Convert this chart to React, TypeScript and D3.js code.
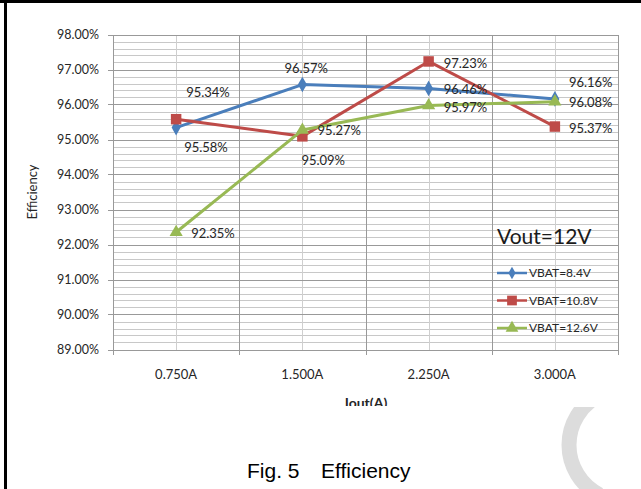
import React from 'react';
import * as d3 from 'd3';

// Iout categories and efficiency (%) for each battery voltage
const categories = ['0.750A', '1.500A', '2.250A', '3.000A'];
const seriesNames = ['VBAT=8.4V', 'VBAT=10.8V', 'VBAT=12.6V'];
const vbat84 = [95.34, 96.57, 96.46, 96.16];
const vbat108 = [95.58, 95.09, 97.23, 95.37];
const vbat126 = [92.35, 95.27, 95.97, 96.08];
const yTickValues = [89, 90, 91, 92, 93, 94, 95, 96, 97, 98];

const seriesValues = [vbat84, vbat108, vbat126];
const colors = ['#4a7ebb', '#be4b48', '#98b954'];
const symbols = [d3.symbolDiamond, d3.symbolSquare, d3.symbolTriangle];

// where Excel put each data label, relative to its point
const labelOffsets = [
  [[10, -35], [-18, -16], [15, 1], [14, -17]],
  [[8, 28], [-1, 24], [15, 2], [14, 2]],
  [[15, 1], [15, 0], [15, 2], [14, 1]],
];

const W = 641;
const H = 489;
const plot = { left: 113, right: 618, top: 34.5, bottom: 349.5 };
const font = 'Lato, "Open Sans", sans-serif';

const App = () => {
  const x = d3.scaleBand<string>()
    .domain(categories)
    .range([plot.left, plot.right])
    .padding(0);

  const y = d3.scaleLinear()
    .domain([89, 98])
    .range([plot.bottom, plot.top]);

  const cx = (c: string) => (x(c) || 0) + x.bandwidth() / 2;
  const px = (v: number) => Math.round(v) + 0.5;

  const minorY = y.ticks(45);
  const bounds = [...categories.map(c => x(c) || 0), plot.right];

  const line = d3.line<number>()
    .x((_, i) => cx(categories[i]))
    .y(d => y(d));

  const symbolSizes = [70, 110, 75];
  const legendSizes = [45, 95, 70];

  return (
    <svg
      width={W}
      height={H}
      style={{ position: 'absolute', left: 0, top: 0, background: '#fff' }}
    >
      <defs>
        <clipPath id="chart-clip">
          <rect x={0} y={0} width={W} height={406} />
        </clipPath>
        <clipPath id="below-clip">
          <rect x={0} y={407} width={W} height={H - 407} />
        </clipPath>
      </defs>

      {/* grey arc peeking in at the bottom right */}
      <g clipPath="url(#below-clip)">
        <path
          d={d3.arc()({ innerRadius: 48.5, outerRadius: 63.5, startAngle: Math.PI * 1.15, endAngle: Math.PI * 1.85 }) || ''}
          transform="translate(625,445)"
          fill="#dcdcdc"
        />
      </g>

      <g clipPath="url(#chart-clip)">
        {/* minor gridlines */}
        {minorY.map(t => (
          <line key={`my${t}`} x1={plot.left} x2={plot.right} y1={px(y(t))} y2={px(y(t))}
            stroke="#c8c8c8" strokeWidth={1} shapeRendering="crispEdges" />
        ))}
        {categories.map(c => (
          <line key={`mx${c}`} x1={px(cx(c))} x2={px(cx(c))} y1={plot.top} y2={plot.bottom}
            stroke="#cfcfcf" strokeWidth={1} shapeRendering="crispEdges" />
        ))}
        {/* major gridlines */}
        {yTickValues.map(t => (
          <line key={`y${t}`} x1={plot.left - 5} x2={plot.right} y1={px(y(t))} y2={px(y(t))}
            stroke="#999" strokeWidth={1} shapeRendering="crispEdges" />
        ))}
        {bounds.map((b, i) => (
          <line key={`x${i}`} x1={px(b)} x2={px(b)} y1={plot.top} y2={plot.bottom + 5}
            stroke="#999" strokeWidth={1} shapeRendering="crispEdges" />
        ))}

        {/* y axis labels */}
        {yTickValues.map(t => (
          <text key={`yl${t}`} x={99} y={y(t) + 4.5} textAnchor="end"
            fontFamily={font} fontSize={12.5} fill="#262626">
            {t.toFixed(2)}%
          </text>
        ))}
        <text transform={`translate(37,${(plot.top + plot.bottom) / 2}) rotate(-90)`}
          textAnchor="middle" fontFamily={font} fontSize={13} fill="#262626">
          Efficiency
        </text>

        {/* x axis labels */}
        {categories.map(c => (
          <text key={`xl${c}`} x={cx(c)} y={379} textAnchor="middle"
            fontFamily={font} fontSize={13} fill="#262626">
            {c}
          </text>
        ))}
        <text x={366} y={407.5} textAnchor="middle" fontFamily={font} fontSize={14}
          fontWeight="bold" fill="#262626">
          Iout(A)
        </text>

        {/* series */}
        {seriesValues.map((vals, s) => (
          <g key={`s${s}`}>
            <path d={line(vals) || ''} fill="none" stroke={colors[s]} strokeWidth={3}
              strokeLinejoin="round" />
            {vals.map((v, i) => (
              <path key={i}
                d={d3.symbol().type(symbols[s]).size(symbolSizes[s])() || ''}
                transform={`translate(${cx(categories[i])},${y(v)})`}
                fill={colors[s]} />
            ))}
          </g>
        ))}
        {seriesValues.map((vals, s) => vals.map((v, i) => (
          <text key={`dl${s}${i}`}
            x={cx(categories[i]) + labelOffsets[s][i][0]}
            y={y(v) + labelOffsets[s][i][1] + 4.6}
            fontFamily={font} fontSize={13} fill="#262626">
            {v.toFixed(2)}%
          </text>
        )))}

        {/* legend */}
        <text x={497} y={244} fontFamily={font} fontSize={21} fill="#1a1a1a">Vout=12V</text>
        {seriesNames.map((n, s) => {
          const ly = 273 + s * 27.5;
          return (
            <g key={`lg${s}`}>
              <line x1={497} x2={527} y1={ly} y2={ly} stroke={colors[s]} strokeWidth={2.5} />
              <path d={d3.symbol().type(symbols[s]).size(legendSizes[s])() || ''}
                transform={`translate(512,${ly})`} fill={colors[s]} />
              <text x={529} y={ly + 4.3} fontFamily={font} fontSize={12} fill="#262626">{n}</text>
            </g>
          );
        })}
      </g>

      {/* caption */}
      <text x={247} y={478} fontFamily='"Liberation Sans", Arial, sans-serif' fontSize={21} fill="#000">Fig. 5</text>
      <text x={321} y={478} fontFamily='"Liberation Sans", Arial, sans-serif' fontSize={21} fill="#000">Efficiency</text>

      {/* page border */}
      <rect x={0} y={0} width={W} height={3} fill="#000" />
      <rect x={4} y={0} width={3} height={H} fill="#000" />
    </svg>
  );
};

export default App;
